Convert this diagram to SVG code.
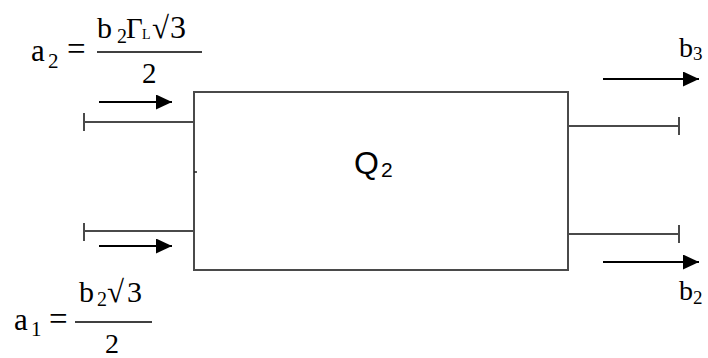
<svg xmlns="http://www.w3.org/2000/svg" width="708" height="358" viewBox="0 0 708 358">
<defs>
<marker id="ah" viewBox="0 0 10 10" refX="10" refY="5" markerWidth="16" markerHeight="15" markerUnits="userSpaceOnUse" orient="auto" preserveAspectRatio="none"><path d="M0,0 L10,5 L0,10 z" fill="#000"/></marker>
<style>
.ln{stroke:#4a4a4a;stroke-width:2;fill:none}
.ar{stroke:#000;stroke-width:2;fill:none;marker-end:url(#ah)}
.m{font-family:'Liberation Serif','Times New Roman',serif;fill:#000}
.q{font-family:'Liberation Sans',Arial,sans-serif;fill:#000}
</style>
</defs>
<rect width="708" height="358" fill="#fff"/>
<g id="block">
<rect class="ln" x="194" y="92" width="374" height="178"/>
<line x1="194" y1="172" x2="197" y2="172" stroke="#222" stroke-width="1.5"/>
<text class="q" x="354" y="174" font-size="32">Q</text>
<text class="q" x="381" y="177" font-size="21">2</text>
</g>
<g id="ports">
<path class="ln" d="M84,122 H194 M84,113 V131 M84,231 H194 M84,223 V241 M568,126 H679 M679,117 V135 M568,234 H679 M679,225 V243"/>
</g>
<g id="connectors">
<line class="ar" x1="99" y1="102" x2="172" y2="102"/>
<line class="ar" x1="99" y1="246" x2="172" y2="246"/>
<line class="ar" x1="603" y1="79" x2="699" y2="79"/>
<line class="ar" x1="603" y1="262" x2="699" y2="262"/>
</g>
<g id="eq-a2">
<text class="m" x="31" y="61" font-size="31">a</text>
<text class="m" x="48" y="68" font-size="21">2</text>
<text class="m" x="67" y="60" font-size="33">=</text>
<text class="m" x="97" y="38" font-size="30">b</text>
<text class="m" x="117" y="43" font-size="20">2</text>
<text class="m" x="126" y="38" font-size="29">Γ</text>
<text class="m" x="142" y="39" font-size="14">L</text>
<text class="m" x="152" y="38" font-size="31">√</text>
<text class="m" x="170" y="38" font-size="32">3</text>
<line x1="97" y1="52" x2="202" y2="52" stroke="#000" stroke-width="1.5"/>
<text class="m" x="142" y="83" font-size="29">2</text>
</g>
<g id="eq-a1">
<text class="m" x="14" y="330" font-size="31">a</text>
<text class="m" x="31" y="336" font-size="21">1</text>
<text class="m" x="49" y="330" font-size="33">=</text>
<text class="m" x="79" y="302" font-size="30">b</text>
<text class="m" x="97" y="306" font-size="20">2</text>
<text class="m" x="107" y="302" font-size="31">√</text>
<text class="m" x="127" y="302" font-size="30">3</text>
<line x1="75" y1="322" x2="152" y2="322" stroke="#000" stroke-width="1.5"/>
<text class="m" x="105" y="353" font-size="28">2</text>
</g>
<g id="label-b3"><text class="m" x="679" y="57" font-size="28">b</text><text class="m" x="693" y="60" font-size="19">3</text></g>
<g id="label-b2"><text class="m" x="679" y="300" font-size="28">b</text><text class="m" x="693" y="304" font-size="19">2</text></g>
</svg>
